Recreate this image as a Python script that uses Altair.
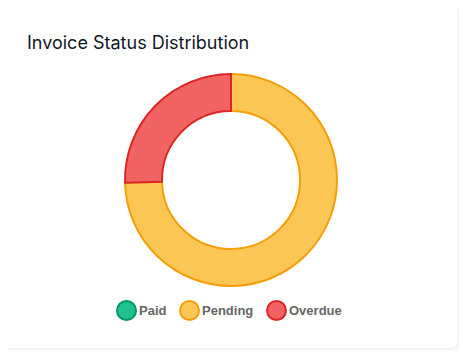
import altair as alt
import pandas as pd

title_text = "Invoice Status Distribution"
statuses = ["Paid", "Pending", "Overdue"]
amounts = [0, 74.6, 25.4]
order_idx = [0, 1, 2]
fill_colors = ["#22c08e", "#fbc653", "#f26363"]
stroke_colors = ["#059669", "#f59e0b", "#dc2626"]

df = pd.DataFrame({"status": statuses, "amount": amounts, "idx": order_idx})

W, H = 451, 342

card = alt.Chart(pd.DataFrame({"a": [0]})).mark_rect(
    fill="white", stroke="#eceef1", strokeWidth=1, cornerRadius=8
).encode(
    x=alt.value(-5), x2=alt.value(450), y=alt.value(-4), y2=alt.value(341)
)

title = alt.Chart(pd.DataFrame({"t": [title_text]})).mark_text(
    font="Inter", fontSize=18, color="#111827", align="left", baseline="alphabetic"
).encode(
    x=alt.value(19), y=alt.value(40.5), text="t:N"
)

donut = alt.Chart(df).mark_arc(
    outerRadius=106, innerRadius=69, strokeWidth=2
).encode(
    x=alt.value(223),
    y=alt.value(172),
    theta=alt.Theta("amount:Q", stack=True),
    order=alt.Order("idx:Q"),
    fill=alt.Fill("status:N", title=None,
                  scale=alt.Scale(domain=statuses, range=fill_colors),
                  legend=alt.Legend(orient="none", legendX=108, legendY=292,
                                    direction="horizontal", title=None)),
    stroke=alt.Stroke("status:N", title=None,
                      scale=alt.Scale(domain=statuses, range=stroke_colors),
                      legend=alt.Legend(orient="none", legendX=108, legendY=292,
                                        direction="horizontal", title=None)),
)

chart = alt.layer(card, title, donut).properties(
    width=W, height=H, padding=0, autosize=alt.AutoSizeParams(type="none"),
    background="#f6f7f9"
).configure_view(strokeWidth=0).configure_legend(
    symbolType="circle", symbolSize=361, symbolStrokeWidth=2,
    labelFont="Liberation Sans", labelFontWeight="bold", labelFontSize=13,
    labelColor="#666666", columnPadding=9, labelOffset=2
)

chart.save("out.html", embed_options={"renderer": "svg", "actions": False})
